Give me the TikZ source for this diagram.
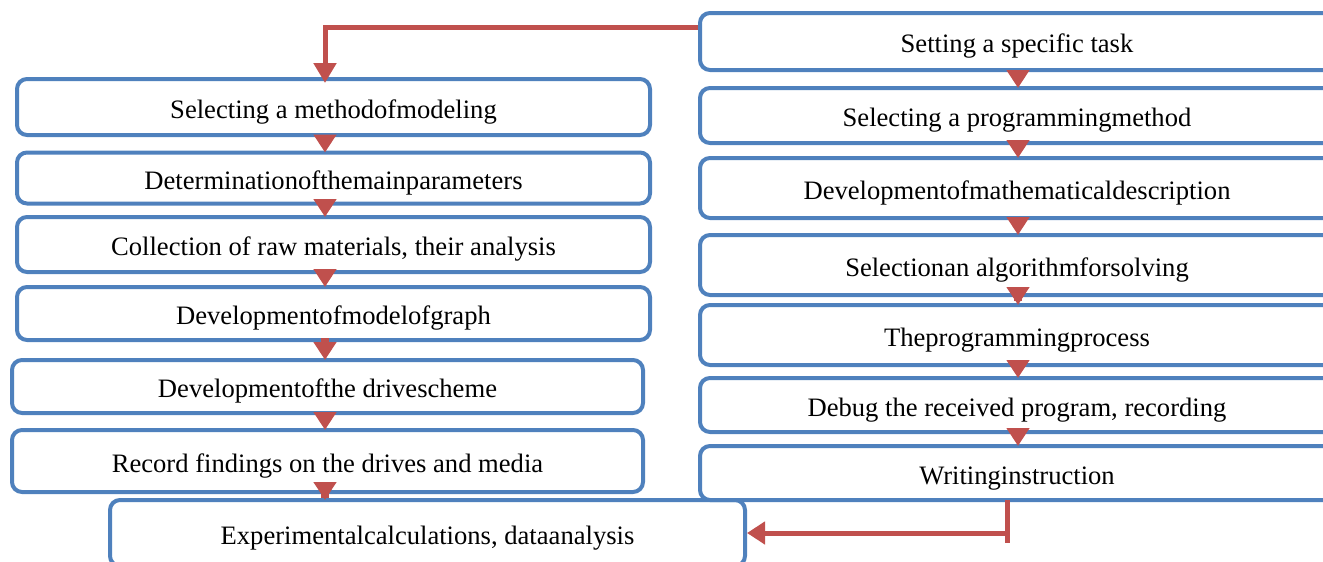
\documentclass[tikz,border=0pt]{standalone}
\usepackage{fontspec}
\setmainfont{Liberation Serif}
\usepackage{tikz}
\usetikzlibrary{arrows.meta}

\definecolor{boxblue}{HTML}{4F81BD}
\definecolor{linkred}{HTML}{C0504D}

\begin{document}
\begin{tikzpicture}[x=0.5pt,y=-0.5pt,
	box/.style={draw=boxblue, line width=2pt, rounded corners=5pt, fill=white,
		align=center, inner sep=0pt, text height=11pt, text depth=0pt,
		font=\fontsize{13.3}{15}\selectfont},
	lbox/.style={box, minimum width=316.5pt},
	rbox/.style={box, minimum width=317pt},
	link/.style={draw=linkred, line width=4pt, -{Triangle[width=11pt,length=9pt]},
		shorten <=-2pt, shorten >=-1pt},
	route/.style={draw=linkred, line width=2.5pt}]

\clip (0,0) rectangle (1323,562); % frame of the picture

% Left column
\node[lbox, minimum height=28pt] (L1) at (333.5,107) {Selecting a methodofmodeling};
\node[lbox, minimum height=25.5pt] (L2) at (333.5,178) {Determinationofthemainparameters};
\node[lbox, minimum height=27.5pt] (L3) at (333.5,244.5) {Collection of raw materials, their analysis};
\node[lbox, minimum height=26.5pt] (L4) at (333.5,313.5) {Developmentofmodelofgraph};
\node[lbox, minimum height=26.5pt, minimum width=315.5pt] (L5) at (327.5,386.5) {Developmentofthe drivescheme};
\node[lbox, minimum height=31pt, minimum width=315.5pt] (L6) at (327.5,461) {Record findings on the drives and media};
\node[lbox, minimum height=33pt, minimum width=317.5pt] (L7) at (427.5,533) {Experimentalcalculations, dataanalysis};

% Right column
\node[rbox, minimum height=28.5pt] (R1) at (1017,41.5) {Setting a specific task};
\node[rbox, minimum height=27.5pt] (R2) at (1017,115.5) {Selecting a programmingmethod};
\node[rbox, minimum height=30pt] (R3) at (1017,188) {Developmentofmathematicaldescription};
\node[rbox, minimum height=30pt] (R4) at (1017,265) {Selectionan algorithmforsolving};
\node[rbox, minimum height=30pt] (R5) at (1017,335) {Theprogrammingprocess};
\node[rbox, minimum height=27pt] (R6) at (1017,405) {Debug the received program, recording};
\node[rbox, minimum height=27pt] (R7) at (1017,473) {Writinginstruction};

% Columns of the arrows
\coordinate (lcol) at (325,0);
\coordinate (rcol) at (1018,0);
\coordinate (tick) at (1007,543);

\foreach \a/\b in {L1/L2,L2/L3,L3/L4,L4/L5,L5/L6,L6/L7}
	\draw[link] (\a.south -| lcol) -- (\b.north -| lcol);
\foreach \a/\b in {R1/R2,R2/R3,R3/R4,R4/R5,R5/R6,R6/R7}
	\draw[link] (\a.south -| rcol) -- (\b.north -| rcol);

% Jump from the right column to the left one
\draw[route, -{Triangle[width=11pt,length=10pt]}, shorten >=-3pt] ([yshift=7pt]R1.west) -| (L1.north -| lcol);
% Back to the last step
\draw[route] ([yshift=1pt]R7.south -| tick) -- (tick);
\draw[route, -{Triangle[width=11pt,length=9pt]}] (L7.east -| tick) -- (L7.east);
\end{tikzpicture}
\end{document}
